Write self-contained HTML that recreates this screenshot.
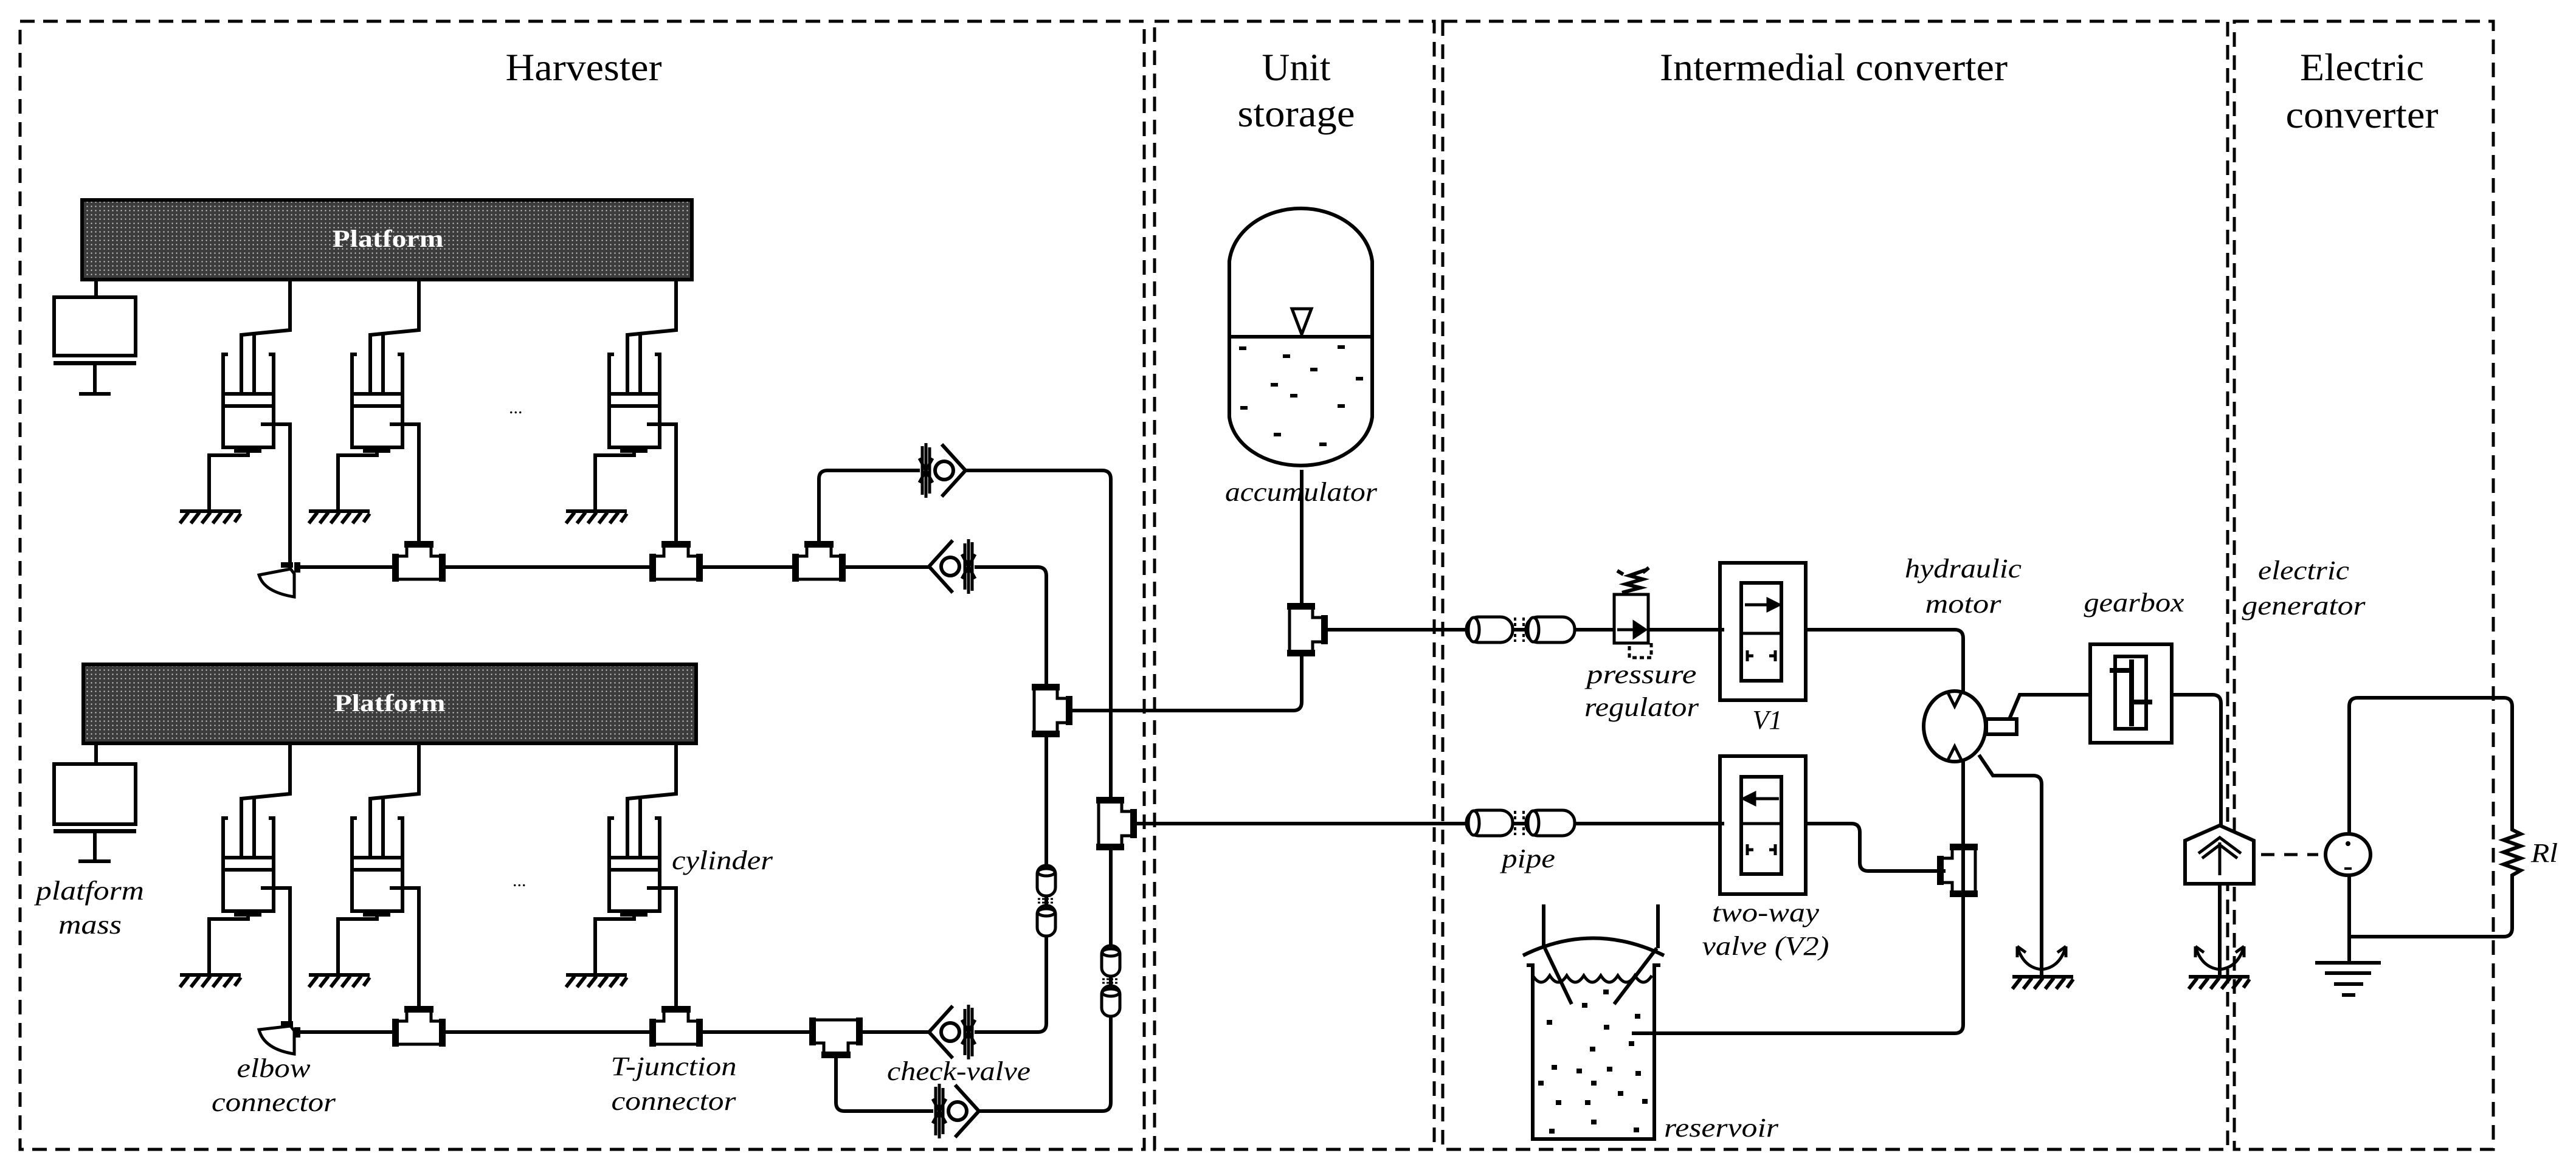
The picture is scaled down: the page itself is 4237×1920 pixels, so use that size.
<!DOCTYPE html>
<html><head><meta charset="utf-8"><style>
html,body{margin:0;padding:0;background:#fff}
svg{display:block}
.t{font-family:"Liberation Serif",serif;font-size:64px;fill:#000}
.l{font-family:"Liberation Serif",serif;font-style:italic;font-size:44px;fill:#000}
</style></head><body>
<svg width="4237" height="1920" viewBox="0 0 4237 1920" xmlns="http://www.w3.org/2000/svg">
<defs>
<pattern id="dots" width="7" height="7" patternUnits="userSpaceOnUse">
<rect width="7" height="7" fill="#3c3c3c"/><circle cx="3.5" cy="3.5" r="1.1" fill="#d8d8d8"/>
</pattern>
<g id="gnd" stroke="#000" stroke-width="6" fill="none">
<path d="M-48,0 H52"/>
<path d="M-34,2 l-14,18 M-16,2 l-14,18 M2,2 l-14,18 M20,2 l-14,18 M38,2 l-14,18 M52,4 l-10,14"/>
</g>
<g id="tee">
<polygon points="-40,20 40,20 40,-18 20,-18 20,-38 -20,-38 -20,-18 -40,-18" fill="#fff" stroke="#000" stroke-width="5"/>
<rect x="-44" y="-22" width="11" height="46" fill="#000"/>
<rect x="33" y="-22" width="11" height="46" fill="#000"/>
<rect x="-24" y="-43" width="48" height="11" fill="#000"/>
</g>
<g id="cv" stroke="#000" fill="none">
<rect x="-40" y="-10" width="72" height="20" fill="#fff" stroke="none"/>
<circle cx="0" cy="0" r="15" fill="#fff" stroke-width="6"/>
<path d="M-4,-43 L35,0 L-4,43" stroke-width="6"/>
<path d="M-36,-40 L-36,40 M-30,-45 L-30,45 M-24,-38 L-24,38 M-41,-20 L-19,20 M-41,20 L-19,-20" stroke-width="5"/>
</g>
<g id="hpipe" stroke="#000" stroke-width="5" fill="#fff">
<rect x="-89" y="-21" width="76" height="42" rx="20"/>
<ellipse cx="-77" cy="0" rx="9" ry="20"/>
<rect x="9" y="-21" width="80" height="42" rx="20"/>
<ellipse cx="21" cy="0" rx="9" ry="20"/>
<path d="M-9,-20 V20 M5,-20 V20" stroke-dasharray="5 4" stroke-width="4"/>
</g>
<g id="vpipe" stroke="#000" stroke-width="5" fill="#fff">
<rect x="-15" y="-58" width="30" height="50" rx="14"/>
<ellipse cx="0" cy="-47" rx="14" ry="6"/>
<rect x="-15" y="8" width="30" height="50" rx="14"/>
<ellipse cx="0" cy="19" rx="14" ry="6"/>
<path d="M-14,-3 H14 M-14,3 H14" stroke-dasharray="4 3" stroke-width="3"/>
</g>
<g id="cyl" stroke="#000" stroke-width="6" fill="none">
<path d="M0,0 V83 L-80,91 V188 M-59,91 V188"/>
<path d="M-102,123 h-8 V276 H-27 V123 h-8"/>
<rect x="-110" y="188" width="83" height="20" fill="#fff"/>
<path d="M-48,238 H0 V475"/>
<rect x="-92" y="276" width="45" height="9" fill="#000" stroke="none"/>
<path d="M-69,284 V289 H-133 V381"/>
<use href="#gnd" x="-133" y="381"/>
</g>
<g id="rot" stroke="#000" stroke-width="5" fill="none">
<path d="M-40,-50 Q-30,-15 0,-12 Q30,-15 40,-50"/>
<path d="M-40,-50 l0,18 M-40,-50 l14,10 M40,-50 l0,18 M40,-50 l-14,10" />
</g>
</defs>

<g fill="none" stroke="#000" stroke-width="5" stroke-dasharray="24 14">
<rect x="33" y="35" width="1849" height="1856"/>
<rect x="1899" y="35" width="460" height="1856"/>
<rect x="2373" y="35" width="1291" height="1856"/>
<rect x="3675" y="35" width="426" height="1856"/>
</g>

<text class="t" x="960" y="132" text-anchor="middle" textLength="257" lengthAdjust="spacingAndGlyphs">Harvester</text>
<text class="t" x="2132" y="132" text-anchor="middle" textLength="113" lengthAdjust="spacingAndGlyphs">Unit</text>
<text class="t" x="2132" y="208" text-anchor="middle" textLength="193" lengthAdjust="spacingAndGlyphs">storage</text>
<text class="t" x="3016" y="132" text-anchor="middle" textLength="572" lengthAdjust="spacingAndGlyphs">Intermedial converter</text>
<text class="t" x="3885" y="132" text-anchor="middle" textLength="204" lengthAdjust="spacingAndGlyphs">Electric</text>
<text class="t" x="3885" y="210" text-anchor="middle" textLength="251" lengthAdjust="spacingAndGlyphs">converter</text>

<rect x="135" y="329" width="1003" height="131" fill="url(#dots)" stroke="#000" stroke-width="6"/>
<text x="638" y="406" text-anchor="middle" font-family="Liberation Serif,serif" font-weight="bold" font-size="40" fill="#fff" textLength="183" lengthAdjust="spacingAndGlyphs">Platform</text>
<rect x="137" y="1093" width="1008" height="130" fill="url(#dots)" stroke="#000" stroke-width="6"/>
<text x="641" y="1170" text-anchor="middle" font-family="Liberation Serif,serif" font-weight="bold" font-size="40" fill="#fff" textLength="183" lengthAdjust="spacingAndGlyphs">Platform</text>

<g stroke="#000" stroke-width="6" fill="none">
<path d="M158,460 V489"/><rect x="89" y="489" width="134" height="96"/>
<rect x="88" y="594" width="136" height="7" fill="#000" stroke="none"/>
<path d="M156,601 V648 M130,648 H182"/>
<path d="M158,1223 V1257"/><rect x="89" y="1257" width="134" height="99"/>
<rect x="88" y="1364" width="136" height="7" fill="#000" stroke="none"/>
<path d="M156,1371 V1417 M129,1417 H182"/>
</g>

<use href="#cyl" x="477" y="460"/>
<use href="#cyl" x="689" y="460"/>
<use href="#cyl" x="1112" y="460"/>
<use href="#cyl" x="477" y="1223"/>
<use href="#cyl" x="689" y="1223"/>
<use href="#cyl" x="1112" y="1223"/>
<text x="837" y="680" font-family="Liberation Serif,serif" font-size="30">...</text>
<text x="843" y="1458" font-family="Liberation Serif,serif" font-size="30">...</text>

<g stroke="#000" stroke-width="6" fill="none">
<path d="M484,933 H1707 Q1721,933 1721,947 V1684 Q1721,1698 1707,1698 H484"/>
<path d="M1347,933 V788 Q1347,774 1361,774 H1813 Q1827,774 1827,788 V1814 Q1827,1828 1813,1828 H1389 Q1375,1828 1375,1814 V1700"/>
<path d="M1721,1169 H2127 Q2141,1169 2141,1155 V773"/>
<path d="M1827,1355 H2836"/>
<path d="M2141,1036 H2836"/>
</g>

<g>
<path d="M426,946 Q434,974 484,982 L484,944 L478,936 Z" fill="#fff" stroke="#000" stroke-width="5"/>
<rect x="462" y="925" width="20" height="9" fill="#000"/><rect x="484" y="925" width="10" height="17" fill="#000"/>
<path d="M426,1694 Q434,1726 484,1734 L484,1696 L478,1688 Z" fill="#fff" stroke="#000" stroke-width="5"/>
<rect x="462" y="1680" width="20" height="9" fill="#000"/><rect x="484" y="1690" width="10" height="17" fill="#000"/>
</g>

<use href="#tee" x="689" y="933"/>
<use href="#tee" x="1112" y="933"/>
<use href="#tee" x="1347" y="933"/>
<use href="#tee" x="689" y="1698"/>
<use href="#tee" x="1112" y="1698"/>
<use href="#tee" transform="translate(1375,1698) rotate(180)"/>
<use href="#tee" transform="translate(1721,1169) rotate(90)"/>
<use href="#tee" transform="translate(1827,1355) rotate(90)"/>
<use href="#tee" transform="translate(2141,1036) rotate(90)"/>
<use href="#tee" transform="translate(3229,1432) rotate(-90)"/>

<use href="#cv" x="1553" y="774"/>
<use href="#cv" transform="translate(1563,932) scale(-1,1)"/>
<use href="#cv" transform="translate(1563,1698) scale(-1,1)"/>
<use href="#cv" x="1575" y="1828"/>

<use href="#vpipe" x="1721" y="1482"/>
<use href="#vpipe" x="1827" y="1614"/>

<g stroke="#000" stroke-width="6" fill="#fff">
<path d="M2022,686 V430 A118,96 0 0 1 2257,430 V686 A118,88 0 0 1 2022,686 Z"/>
<path d="M2022,554 H2257" fill="none"/>
<polygon points="2125,508 2157,508 2141,550" fill="none" stroke-width="5"/>
</g>
<g fill="#000">
<rect x="2038" y="570" width="12" height="6"/><rect x="2110" y="583" width="12" height="6"/><rect x="2155" y="605" width="12" height="6"/>
<rect x="2200" y="568" width="12" height="6"/><rect x="2090" y="630" width="12" height="6"/><rect x="2122" y="648" width="12" height="6"/>
<rect x="2200" y="665" width="12" height="6"/><rect x="2040" y="668" width="12" height="6"/><rect x="2095" y="712" width="12" height="6"/>
<rect x="2170" y="728" width="12" height="6"/><rect x="2230" y="620" width="12" height="6"/>
</g>

<use href="#hpipe" x="2501" y="1036"/>
<use href="#hpipe" x="2501" y="1354"/>
<g stroke="#000" stroke-width="5" fill="none">
<rect x="2655" y="978" width="56" height="80" fill="#fff"/>
<path d="M2660,1036 H2700"/><polygon points="2688,1024 2706,1036 2688,1048" fill="#000"/>
<rect x="2680" y="1058" width="36" height="24" stroke-dasharray="7 5"/>
<path d="M2668,975 l30,-8 l-24,-6 l28,-8 l-22,-6 l26,-9 M2670,945 l-10,-6 M2702,942 l10,-8" stroke-width="6"/>
<rect x="2829" y="926" width="141" height="226" stroke-width="6"/>
<rect x="2864" y="959" width="66" height="161" stroke-width="6"/>
<path d="M2864,1042 H2930 M2870,995 H2910"/><polygon points="2908,986 2926,995 2908,1004" fill="#000"/>
<path d="M2874,1070 V1088 M2874,1079 h10 M2920,1070 V1088 M2920,1079 h-10"/>
<rect x="2829" y="1244" width="141" height="227" stroke-width="6"/>
<rect x="2864" y="1278" width="66" height="160" stroke-width="6"/>
<path d="M2864,1355 H2930 M2884,1314 H2926"/><polygon points="2886,1305 2868,1314 2886,1323" fill="#000"/>
<path d="M2874,1389 V1407 M2874,1398 h10 M2920,1389 V1407 M2920,1398 h-10"/>
</g>
<g stroke="#000" stroke-width="6" fill="none">
<path d="M2970,1036 H3215 Q3229,1036 3229,1050 V1137"/>
<path d="M3229,1253 V1686 Q3229,1700 3215,1700 H2684"/>
<path d="M2970,1355 H3045 Q3059,1355 3059,1369 V1419 Q3059,1433 3073,1433 H3200"/>
<path d="M3255,1242 L3278,1276 H3344 Q3358,1276 3358,1290 V1607"/>
<path d="M3305,1183 L3322,1143 H3438"/>
<path d="M3572,1143 H3639 Q3653,1143 3653,1157 V1358"/>
<path d="M3651,1454 V1607"/>
</g>
<use href="#gnd" x="3358" y="1607"/>
<use href="#rot" x="3358" y="1607"/>
<use href="#gnd" x="3648" y="1607"/>
<use href="#rot" x="3651" y="1607"/>
<g stroke="#000" stroke-width="6" fill="#fff">
<ellipse cx="3215" cy="1195" rx="51" ry="58"/>
<rect x="3267" y="1183" width="50" height="25"/>
<path d="M3204,1140 L3215,1162 L3226,1140 M3204,1250 L3215,1228 L3226,1250" fill="none" stroke-width="5"/>
<rect x="3438" y="1060" width="134" height="162"/>
<rect x="3479" y="1080" width="51" height="119"/>
<path d="M3506,1085 V1195 M3470,1103 H3506 M3506,1155 H3540" fill="none" stroke-width="8"/>
<polygon points="3594,1383 3651,1358 3707,1383 3707,1454 3594,1454"/>
<path d="M3616,1404 L3651,1378 L3686,1404 M3622,1412 L3651,1390 L3680,1412 M3651,1386 V1440" fill="none" stroke-width="5"/>
</g>
<path d="M3719,1406 H3813" stroke="#000" stroke-width="5" stroke-dasharray="22 16"/>

<g stroke="#000" stroke-width="6" fill="none">
<path d="M2511,1588 H2521 V1874 H2721 V1588 H2731"/>
<path d="M2505,1572 Q2620,1515 2737,1572"/>
<path d="M2539,1488 V1560 M2727,1488 V1560"/>
<path d="M2541,1560 L2585,1652 M2725,1560 L2655,1652"/>
<path d="M2521,1605 q14,22 28,0 q14,22 28,0 q14,22 28,0 q14,22 28,0 q14,22 28,0 q14,22 28,0 q14,22 28,0" stroke-width="5"/>
</g>
<g fill="#000">
<rect x="2637" y="1628" width="9" height="8"/><rect x="2602" y="1650" width="9" height="8"/><rect x="2544" y="1678" width="9" height="8"/>
<rect x="2689" y="1668" width="9" height="8"/><rect x="2638" y="1686" width="9" height="8"/><rect x="2615" y="1722" width="9" height="8"/>
<rect x="2679" y="1713" width="9" height="8"/><rect x="2552" y="1752" width="9" height="8"/><rect x="2593" y="1758" width="9" height="8"/>
<rect x="2643" y="1755" width="9" height="8"/><rect x="2690" y="1762" width="9" height="8"/><rect x="2530" y="1778" width="9" height="8"/>
<rect x="2617" y="1778" width="9" height="8"/><rect x="2661" y="1795" width="9" height="8"/><rect x="2559" y="1810" width="9" height="8"/>
<rect x="2607" y="1810" width="9" height="8"/><rect x="2701" y="1808" width="9" height="8"/><rect x="2617" y="1842" width="9" height="8"/>
<rect x="2548" y="1857" width="9" height="8"/><rect x="2687" y="1855" width="9" height="8"/>
</g>

<g stroke="#000" stroke-width="6" fill="none">
<path d="M3864,1370 V1162 Q3864,1148 3878,1148 H4118 Q4132,1148 4132,1162 V1365 l14,7 l-28,10 l28,10 l-28,10 l28,10 l-28,10 l28,10 l-14,8 V1527 Q4132,1541 4118,1541 H3864"/>
<path d="M3864,1442 V1584"/>
<ellipse cx="3862" cy="1406" rx="37" ry="34" fill="#fff"/>
<path d="M3808,1584 H3916 M3824,1601 H3900 M3839,1619 H3887 M3852,1637 H3874"/>
</g>
<circle cx="3862" cy="1388" r="4" fill="#000"/><rect x="3856" y="1427" width="12" height="4" fill="#000"/>

<text class="l" x="148" y="1480" text-anchor="middle" textLength="178" lengthAdjust="spacingAndGlyphs">platform</text>
<text class="l" x="148" y="1536" text-anchor="middle" textLength="104" lengthAdjust="spacingAndGlyphs">mass</text>
<text class="l" x="450" y="1772" text-anchor="middle" textLength="121" lengthAdjust="spacingAndGlyphs">elbow</text>
<text class="l" x="450" y="1828" text-anchor="middle" textLength="204" lengthAdjust="spacingAndGlyphs">connector</text>
<text class="l" x="1105" y="1430" textLength="166" lengthAdjust="spacingAndGlyphs">cylinder</text>
<text class="l" x="1108" y="1769" text-anchor="middle" textLength="207" lengthAdjust="spacingAndGlyphs">T-junction</text>
<text class="l" x="1108" y="1826" text-anchor="middle" textLength="205" lengthAdjust="spacingAndGlyphs">connector</text>
<text class="l" x="1577" y="1777" text-anchor="middle" textLength="236" lengthAdjust="spacingAndGlyphs">check-valve</text>
<text class="l" x="2140" y="824" text-anchor="middle" textLength="250" lengthAdjust="spacingAndGlyphs">accumulator</text>
<text class="l" x="2700" y="1124" text-anchor="middle" textLength="181" lengthAdjust="spacingAndGlyphs">pressure</text>
<text class="l" x="2700" y="1178" text-anchor="middle" textLength="188" lengthAdjust="spacingAndGlyphs">regulator</text>
<text class="l" x="2907" y="1199" text-anchor="middle">V1</text>
<text class="l" x="3229" y="950" text-anchor="middle" textLength="192" lengthAdjust="spacingAndGlyphs">hydraulic</text>
<text class="l" x="3229" y="1008" text-anchor="middle" textLength="125" lengthAdjust="spacingAndGlyphs">motor</text>
<text class="l" x="3510" y="1006" text-anchor="middle" textLength="165" lengthAdjust="spacingAndGlyphs">gearbox</text>
<text class="l" x="2514" y="1427" text-anchor="middle" textLength="88" lengthAdjust="spacingAndGlyphs">pipe</text>
<text class="l" x="2904" y="1516" text-anchor="middle" textLength="176" lengthAdjust="spacingAndGlyphs">two-way</text>
<text class="l" x="2904" y="1571" text-anchor="middle" textLength="209" lengthAdjust="spacingAndGlyphs">valve (V2)</text>
<text class="l" x="2737" y="1870" textLength="188" lengthAdjust="spacingAndGlyphs">reservoir</text>
<text class="l" x="3789" y="953" text-anchor="middle" textLength="150" lengthAdjust="spacingAndGlyphs">electric</text>
<text class="l" x="3789" y="1011" text-anchor="middle" textLength="203" lengthAdjust="spacingAndGlyphs">generator</text>
<text class="l" x="4163" y="1418" textLength="44" lengthAdjust="spacingAndGlyphs">Rl</text>
</svg>
</body></html>
